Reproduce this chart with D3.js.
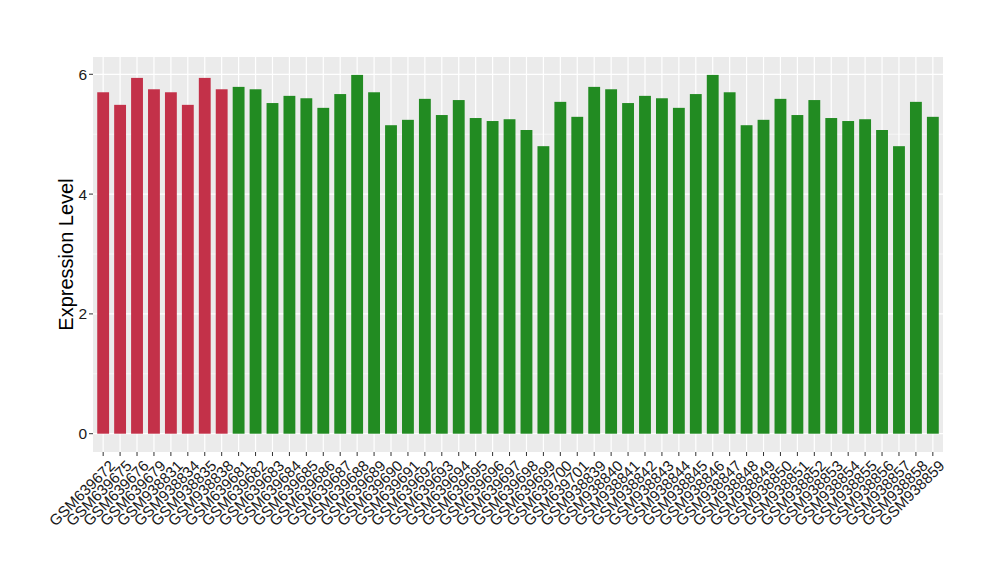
<!DOCTYPE html>
<html>
<head>
<meta charset="utf-8">
<script src="https://cdn.jsdelivr.net/npm/d3@7"></script>
<style>
  body { margin: 0; background: #fff; }
  svg text { font-family: "Liberation Sans", Arial, Helvetica, sans-serif; }
</style>
</head>
<body>
<svg id="chart" width="1000" height="580"></svg>
<script>
// 樣本名稱
const samples = [
    'GSM639672', 'GSM639675', 'GSM639676', 'GSM639679', 'GSM938831', 'GSM938834', 'GSM938835', 'GSM938838',
    'GSM639681', 'GSM639682', 'GSM639683', 'GSM639684', 'GSM639685', 'GSM639686', 'GSM639687', 'GSM639688',
    'GSM639689', 'GSM639690', 'GSM639691', 'GSM639692', 'GSM639693', 'GSM639694', 'GSM639695', 'GSM639696',
    'GSM639697', 'GSM639698', 'GSM639699', 'GSM639700', 'GSM639701',
    'GSM938839', 'GSM938840', 'GSM938841', 'GSM938842', 'GSM938843', 'GSM938844', 'GSM938845', 'GSM938846',
    'GSM938847', 'GSM938848', 'GSM938849', 'GSM938850', 'GSM938851', 'GSM938852', 'GSM938853', 'GSM938854',
    'GSM938855', 'GSM938856', 'GSM938857', 'GSM938858', 'GSM938859'
];
// 表現量
const values = [
    5.70, 5.49, 5.94, 5.75, 5.70, 5.49, 5.94, 5.75,
    5.79, 5.75, 5.52, 5.64, 5.60, 5.44, 5.67, 5.99,
    5.70, 5.15, 5.24, 5.59, 5.32, 5.57, 5.27, 5.22,
    5.25, 5.07, 4.80, 5.54, 5.29,
    5.79, 5.75, 5.52, 5.64, 5.60, 5.44, 5.67, 5.99,
    5.70, 5.15, 5.24, 5.59, 5.32, 5.57, 5.27, 5.22,
    5.25, 5.07, 4.80, 5.54, 5.29
];
// 分組 (前8個是紅色)
const groups = samples.map((s, i) => i < 8 ? 'A' : 'B');
const yTicks = [0, 2, 4, 6];

const data = samples.map((s, i) => ({ name: s, value: values[i], group: groups[i] }));

const colors = { A: '#c33149', B: '#228b22' };

const svg = d3.select('#chart');
const panel = { left: 93, right: 943, top: 57, bottom: 452 };

// 定義比例尺 (ggplot 的 expand: 左右各 0.6 個單位)
const x = d3.scalePoint()
    .domain(samples)
    .range([panel.left, panel.right])
    .padding(0.6);
const step = x.step();

const y = d3.scaleLinear()
    .domain([0, 6])
    .range([433.7, 74.3]);

// 背景
svg.append('rect')
    .attr('x', panel.left).attr('y', panel.top)
    .attr('width', panel.right - panel.left)
    .attr('height', panel.bottom - panel.top)
    .attr('fill', '#ebebeb');

// 次要格線
[1, 3, 5].forEach(v => {
    svg.append('line')
        .attr('x1', panel.left).attr('x2', panel.right)
        .attr('y1', y(v)).attr('y2', y(v))
        .attr('stroke', '#fff').attr('stroke-width', 0.6);
});
// 主要格線
yTicks.forEach(v => {
    svg.append('line')
        .attr('x1', panel.left).attr('x2', panel.right)
        .attr('y1', y(v)).attr('y2', y(v))
        .attr('stroke', '#fff').attr('stroke-width', 1.2);
});
samples.forEach(s => {
    svg.append('line')
        .attr('x1', x(s)).attr('x2', x(s))
        .attr('y1', panel.top).attr('y2', panel.bottom)
        .attr('stroke', '#fff').attr('stroke-width', 1.2);
});

// 長條
const barW = step * 0.7;
svg.selectAll('.bar')
    .data(data)
    .enter()
    .append('rect')
    .attr('class', 'bar')
    .attr('x', d => x(d.name) - barW / 2)
    .attr('width', barW)
    .attr('y', d => y(d.value))
    .attr('height', d => y(0) - y(d.value))
    .attr('fill', d => colors[d.group]);

// y 軸
const yAxis = svg.append('g');
yTicks.forEach(v => {
    yAxis.append('line')
        .attr('x1', panel.left - 4).attr('x2', panel.left)
        .attr('y1', y(v)).attr('y2', y(v))
        .attr('stroke', '#333').attr('stroke-width', 1);
    yAxis.append('text')
        .attr('x', panel.left - 6)
        .attr('y', y(v))
        .attr('dy', '0.36em')
        .attr('text-anchor', 'end')
        .attr('font-size', 15.5)
        .attr('fill', '#1a1a1a')
        .text(v);
});

// x 軸
const xAxis = svg.append('g');
samples.forEach(s => {
    xAxis.append('line')
        .attr('x1', x(s)).attr('x2', x(s))
        .attr('y1', panel.bottom).attr('y2', panel.bottom + 4)
        .attr('stroke', '#333').attr('stroke-width', 1);
    xAxis.append('text')
        .attr('transform', `translate(${x(s) + 5}, ${panel.bottom + 7}) rotate(-45)`)
        .attr('text-anchor', 'end')
        .attr('dy', '0.72em')
        .attr('font-size', 15.2)
        .attr('fill', '#1a1a1a')
        .text(s);
});

// y 軸標題
svg.append('text')
    .attr('transform', `translate(73, ${(panel.top + panel.bottom) / 2}) rotate(-90)`)
    .attr('text-anchor', 'middle')
    .attr('font-size', 20)
    .attr('fill', '#000')
    .text('Expression Level');
</script>
</body>
</html>
